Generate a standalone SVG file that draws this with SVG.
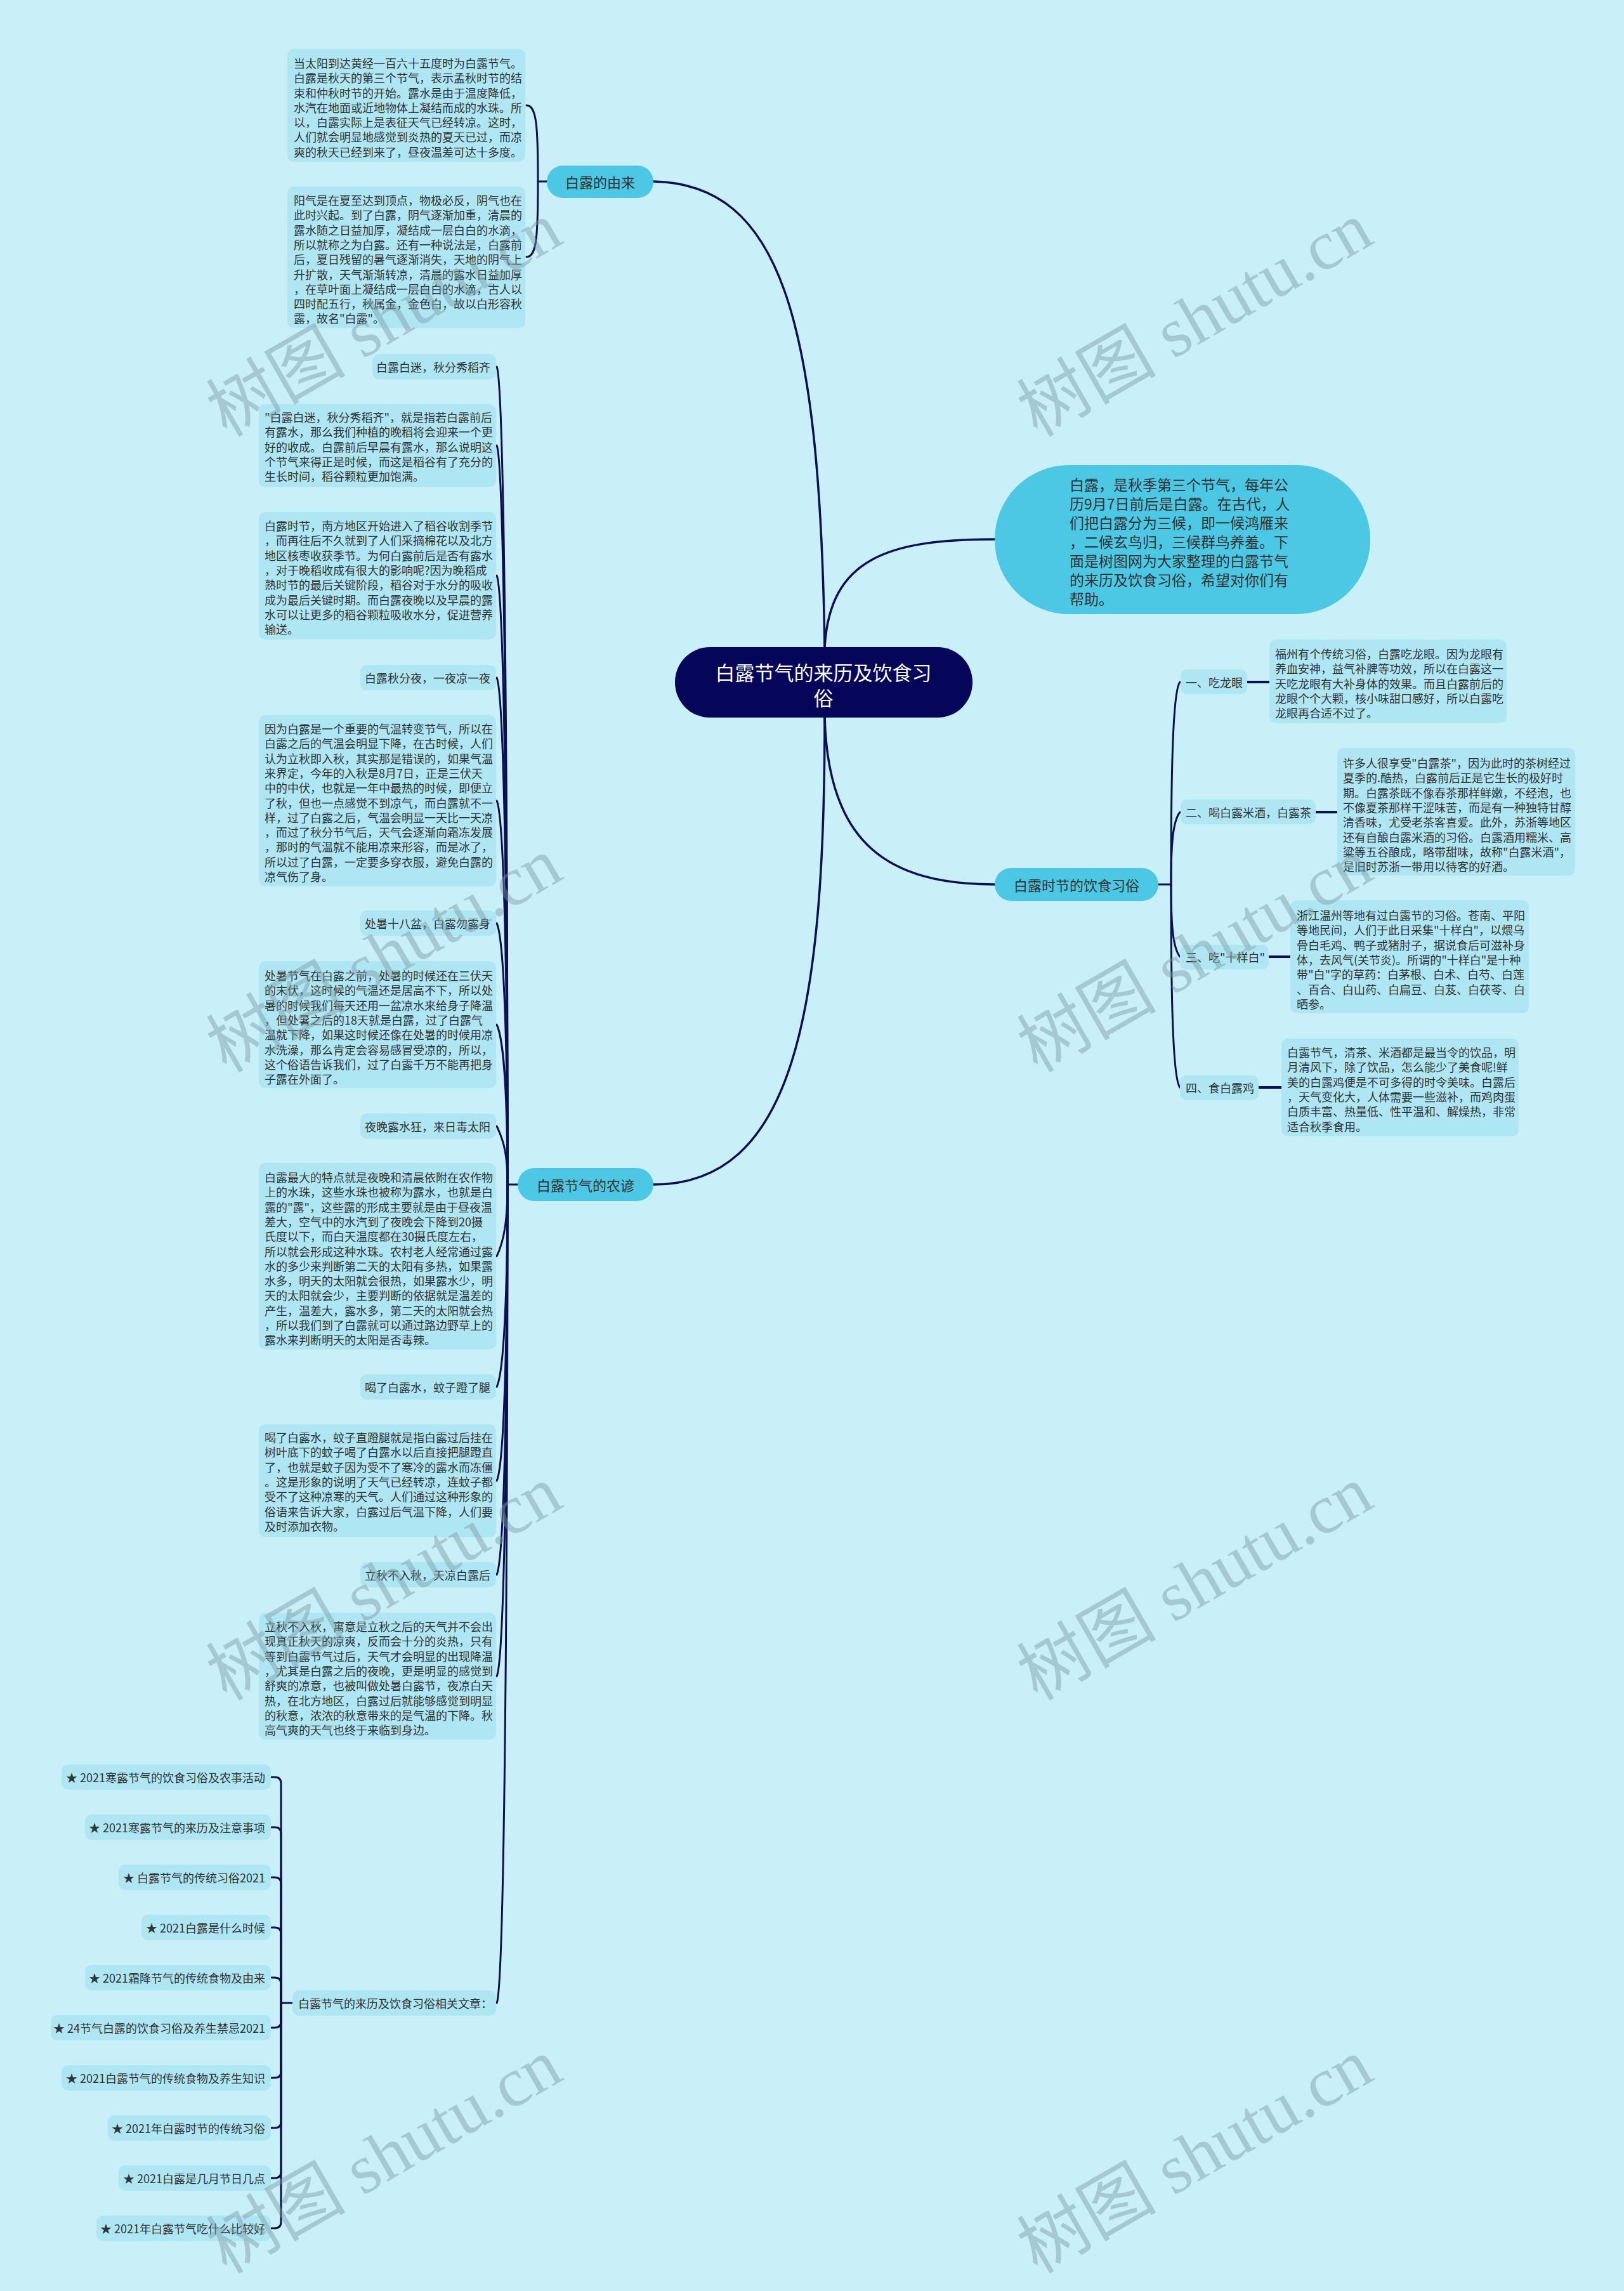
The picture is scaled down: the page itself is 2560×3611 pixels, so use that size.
<svg xmlns="http://www.w3.org/2000/svg" width="2560" height="3611" viewBox="0 0 2560 3611">
<style>
.bg{fill:#c9f0f8}
.leaf{fill:#aee6f4}
.major{fill:#4cc8e5}
.t{font-family:"Noto Sans CJK SC","Noto Sans",sans-serif;font-size:18px;fill:#333;dominant-baseline:central}
.tm{font-family:"Noto Sans CJK SC","Noto Sans",sans-serif;font-size:22px;fill:#333;dominant-baseline:central;text-anchor:middle}
.ti{font-family:"Noto Sans CJK SC","Noto Sans",sans-serif;font-size:23px;fill:#333;dominant-baseline:central}
.tr{font-family:"Noto Sans CJK SC","Noto Sans",sans-serif;font-size:31px;fill:#fff;dominant-baseline:central;text-anchor:middle}
.e{text-anchor:end}
.c{fill:none;stroke:#0c0f52;stroke-width:3;stroke-linecap:round}
.cm{fill:none;stroke:#0c0f52;stroke-width:3.5;stroke-linecap:round}
.cs{fill:none;stroke:#0c0f52;stroke-width:4}
.wm{font-family:"Liberation Serif","Noto Sans CJK SC",serif;font-size:110px;fill:#7d9ba3;opacity:.45}
</style>
<rect class="bg" x="0" y="0" width="2560" height="3611"/>

<g id="connectors">
<path class="cm" d="M1030,286 C1230,290 1292,500 1300,1020"/>
<path class="cm" d="M1300,1020 C1308,880 1400,850 1568,850"/>
<path class="cm" d="M1300,1130 C1305,1330 1400,1394 1568,1394"/>
<path class="cm" d="M1300,1130 C1300,1600 1250,1867 1030,1867"/>
<path class="c" d="M862,286 L848,286 C848,200 846,166 830,166"/>
<path class="c" d="M848,286 C848,372 846,405 830,405"/>
<path class="c" d="M816,1867 L800,1867"/>
<path class="c" d="M800,1867 C800,1222 795,603 783,578"/>
<path class="c" d="M800,1867 C800,1285 795,727 783,702"/>
<path class="c" d="M800,1867 C800,1387 795,932 783,907"/>
<path class="c" d="M800,1867 C800,1467 795,1093 783,1068"/>
<path class="c" d="M800,1867 C800,1565 795,1287 783,1262"/>
<path class="c" d="M800,1867 C800,1661 795,1480 783,1455"/>
<path class="c" d="M800,1867 C800,1741 795,1640 783,1615"/>
<path class="c" d="M800,1867 C800,1821 795,1800 783,1775"/>
<path class="c" d="M800,1867 C800,1923 795,1955 783,1980"/>
<path class="c" d="M800,1867 C800,2026 795,2161 783,2186"/>
<path class="c" d="M800,1867 C800,2100 795,2309 783,2334"/>
<path class="c" d="M800,1867 C800,2174 795,2457 783,2482"/>
<path class="c" d="M800,1867 C800,2254 795,2617 783,2642"/>
<path class="c" d="M800,1867 C800,2512 795,3132 783,3157"/>
<path class="c" d="M461,3157 L443,3157"/>
<path class="c" d="M443,3157 L443,2811 Q443,2801 433,2801 L428,2801"/>
<path class="c" d="M443,3157 L443,2890 Q443,2880 433,2880 L428,2880"/>
<path class="c" d="M443,3157 L443,2969 Q443,2959 433,2959 L428,2959"/>
<path class="c" d="M443,3157 L443,3048 Q443,3038 433,3038 L428,3038"/>
<path class="c" d="M443,3157 L443,3127 Q443,3117 433,3117 L428,3117"/>
<path class="c" d="M443,3157 L443,3186 Q443,3196 433,3196 L428,3196"/>
<path class="c" d="M443,3157 L443,3265 Q443,3275 433,3275 L428,3275"/>
<path class="c" d="M443,3157 L443,3344 Q443,3354 433,3354 L428,3354"/>
<path class="c" d="M443,3157 L443,3423 Q443,3433 433,3433 L428,3433"/>
<path class="c" d="M443,3157 L443,3502 Q443,3512 433,3512 L428,3512"/>
<path class="c" d="M1826,1394 L1846,1394"/>
<path class="c" d="M1846,1394 C1846,1235 1848,1090 1860,1075"/>
<path class="c" d="M1846,1394 C1846,1337 1848,1295 1860,1280"/>
<path class="c" d="M1846,1394 C1846,1451 1848,1493 1860,1508"/>
<path class="c" d="M1846,1394 C1846,1554 1848,1699 1860,1714"/>
<path class="cs" d="M1966,1075 L2001,1075"/>
<path class="cs" d="M2074,1280 L2108,1280"/>
<path class="cs" d="M2000,1508 L2034,1508"/>
<path class="cs" d="M1984,1714 L2020,1714"/>
</g>

<g id="root">
<rect x="1064" y="1020" width="469" height="111" rx="55" fill="#05065a"/>
<text class="tr" x="1298"><tspan x="1298" y="1058">白露节气的来历及饮食习</tspan><tspan x="1298" y="1098">俗</tspan></text>
</g>

<g id="intro">
<rect x="1568" y="733" width="592" height="235" rx="117" class="major"/>
<text class="ti"><tspan x="1686" y="763">白露，是秋季第三个节气，每年公</tspan><tspan x="1686" y="793">历9月7日前后是白露。在古代，人</tspan><tspan x="1686" y="823">们把白露分为三候，即一候鸿雁来</tspan><tspan x="1686" y="853">，二候玄鸟归，三候群鸟养羞。下</tspan><tspan x="1686" y="883">面是树图网为大家整理的白露节气</tspan><tspan x="1686" y="913">的来历及饮食习俗，希望对你们有</tspan><tspan x="1686" y="943">帮助。</tspan></text>
</g>

<g id="origin">
<rect x="862" y="261" width="168" height="51" rx="25" class="major"/>
<text class="tm" x="946" y="286">白露的由来</text>
</g>
<g id="origin-1">
<rect x="453" y="77" width="375" height="178" rx="10" class="leaf"/>
<text class="t"><tspan x="463" y="99">当太阳到达黄经一百六十五度时为白露节气。</tspan><tspan x="463" y="122">白露是秋天的第三个节气，表示孟秋时节的结</tspan><tspan x="463" y="146">束和仲秋时节的开始。露水是由于温度降低，</tspan><tspan x="463" y="169">水汽在地面或近地物体上凝结而成的水珠。所</tspan><tspan x="463" y="192">以，白露实际上是表征天气已经转凉。这时，</tspan><tspan x="463" y="215">人们就会明显地感觉到炎热的夏天已过，而凉</tspan><tspan x="463" y="239">爽的秋天已经到来了，昼夜温差可达十多度。</tspan></text>
</g>
<g id="origin-2">
<rect x="453" y="294" width="375" height="223" rx="10" class="leaf"/>
<text class="t"><tspan x="463" y="315">阳气是在夏至达到顶点，物极必反，阴气也在</tspan><tspan x="463" y="338">此时兴起。到了白露，阴气逐渐加重，清晨的</tspan><tspan x="463" y="362">露水随之日益加厚，凝结成一层白白的水滴，</tspan><tspan x="463" y="385">所以就称之为白露。还有一种说法是，白露前</tspan><tspan x="463" y="408">后，夏日残留的暑气逐渐消失，天地的阴气上</tspan><tspan x="463" y="432">升扩散，天气渐渐转凉，清晨的露水日益加厚</tspan><tspan x="463" y="455">，在草叶面上凝结成一层白白的水滴，古人以</tspan><tspan x="463" y="478">四时配五行，秋属金，金色白，故以白形容秋</tspan><tspan x="463" y="501">露，故名"白露"。</tspan></text>
</g>

<g id="proverbs">
<rect x="816" y="1841" width="214" height="52" rx="26" class="major"/>
<text class="tm" x="923" y="1867">白露节气的农谚</text>
</g>
<g id="p1"><rect x="587" y="558" width="195" height="40" rx="10" class="leaf"/><text class="t e" x="773" y="578">白露白迷，秋分秀稻齐</text></g>
<g id="p1d">
<rect x="408" y="637" width="374" height="131" rx="10" class="leaf"/>
<text class="t"><tspan x="417" y="657">"白露白迷，秋分秀稻齐"，就是指若白露前后</tspan><tspan x="417" y="680">有露水，那么我们种植的晚稻将会迎来一个更</tspan><tspan x="417" y="704">好的收成。白露前后早晨有露水，那么说明这</tspan><tspan x="417" y="727">个节气来得正是时候，而这是稻谷有了充分的</tspan><tspan x="417" y="750">生长时间，稻谷颗粒更加饱满。</tspan></text>
</g>
<g id="p1e">
<rect x="408" y="807" width="374" height="201" rx="10" class="leaf"/>
<text class="t"><tspan x="417" y="828">白露时节，南方地区开始进入了稻谷收割季节</tspan><tspan x="417" y="851">，而再往后不久就到了人们采摘棉花以及北方</tspan><tspan x="417" y="875">地区核枣收获季节。为何白露前后是否有露水</tspan><tspan x="417" y="898">，对于晚稻收成有很大的影响呢?因为晚稻成</tspan><tspan x="417" y="921">熟时节的最后关键阶段，稻谷对于水分的吸收</tspan><tspan x="417" y="945">成为最后关键时期。而白露夜晚以及早晨的露</tspan><tspan x="417" y="968">水可以让更多的稻谷颗粒吸收水分，促进营养</tspan><tspan x="417" y="991">输送。</tspan></text>
</g>
<g id="p2"><rect x="568" y="1048" width="214" height="40" rx="10" class="leaf"/><text class="t e" x="773" y="1068">白露秋分夜，一夜凉一夜</text></g>
<g id="p2d">
<rect x="408" y="1127" width="374" height="270" rx="10" class="leaf"/>
<text class="t"><tspan x="417" y="1148">因为白露是一个重要的气温转变节气，所以在</tspan><tspan x="417" y="1171">白露之后的气温会明显下降，在古时候，人们</tspan><tspan x="417" y="1195">认为立秋即入秋，其实那是错误的，如果气温</tspan><tspan x="417" y="1218">来界定，今年的入秋是8月7日，正是三伏天</tspan><tspan x="417" y="1241">中的中伏，也就是一年中最热的时候，即便立</tspan><tspan x="417" y="1265">了秋，但也一点感觉不到凉气，而白露就不一</tspan><tspan x="417" y="1288">样，过了白露之后，气温会明显一天比一天凉</tspan><tspan x="417" y="1311">，而过了秋分节气后，天气会逐渐向霜冻发展</tspan><tspan x="417" y="1334">，那时的气温就不能用凉来形容，而是冰了，</tspan><tspan x="417" y="1358">所以过了白露，一定要多穿衣服，避免白露的</tspan><tspan x="417" y="1381">凉气伤了身。</tspan></text>
</g>
<g id="p3"><rect x="568" y="1435" width="214" height="40" rx="10" class="leaf"/><text class="t e" x="773" y="1455">处暑十八盆，白露勿露身</text></g>
<g id="p3d">
<rect x="408" y="1515" width="374" height="200" rx="10" class="leaf"/>
<text class="t"><tspan x="417" y="1537">处暑节气在白露之前，处暑的时候还在三伏天</tspan><tspan x="417" y="1560">的末伏，这时候的气温还是居高不下，所以处</tspan><tspan x="417" y="1584">暑的时候我们每天还用一盆凉水来给身子降温</tspan><tspan x="417" y="1607">，但处暑之后的18天就是白露，过了白露气</tspan><tspan x="417" y="1630">温就下降，如果这时候还像在处暑的时候用凉</tspan><tspan x="417" y="1654">水洗澡，那么肯定会容易感冒受凉的，所以，</tspan><tspan x="417" y="1677">这个俗语告诉我们，过了白露千万不能再把身</tspan><tspan x="417" y="1700">子露在外面了。</tspan></text>
</g>
<g id="p4"><rect x="568" y="1755" width="214" height="40" rx="10" class="leaf"/><text class="t e" x="773" y="1775">夜晚露水狂，来日毒太阳</text></g>
<g id="p4d">
<rect x="408" y="1833" width="374" height="294" rx="10" class="leaf"/>
<text class="t"><tspan x="417" y="1855">白露最大的特点就是夜晚和清晨依附在农作物</tspan><tspan x="417" y="1878">上的水珠，这些水珠也被称为露水，也就是白</tspan><tspan x="417" y="1902">露的"露"，这些露的形成主要就是由于昼夜温</tspan><tspan x="417" y="1925">差大，空气中的水汽到了夜晚会下降到20摄</tspan><tspan x="417" y="1948">氏度以下，而白天温度都在30摄氏度左右，</tspan><tspan x="417" y="1972">所以就会形成这种水珠。农村老人经常通过露</tspan><tspan x="417" y="1995">水的多少来判断第二天的太阳有多热，如果露</tspan><tspan x="417" y="2018">水多，明天的太阳就会很热，如果露水少，明</tspan><tspan x="417" y="2041">天的太阳就会少，主要判断的依据就是温差的</tspan><tspan x="417" y="2065">产生，温差大，露水多，第二天的太阳就会热</tspan><tspan x="417" y="2088">，所以我们到了白露就可以通过路边野草上的</tspan><tspan x="417" y="2111">露水来判断明天的太阳是否毒辣。</tspan></text>
</g>
<g id="p5"><rect x="568" y="2166" width="214" height="40" rx="10" class="leaf"/><text class="t e" x="773" y="2186">喝了白露水，蚊子蹬了腿</text></g>
<g id="p5d">
<rect x="408" y="2245" width="374" height="178" rx="10" class="leaf"/>
<text class="t"><tspan x="417" y="2265">喝了白露水，蚊子直蹬腿就是指白露过后挂在</tspan><tspan x="417" y="2288">树叶底下的蚊子喝了白露水以后直接把腿蹬直</tspan><tspan x="417" y="2312">了，也就是蚊子因为受不了寒冷的露水而冻僵</tspan><tspan x="417" y="2335">。这是形象的说明了天气已经转凉，连蚊子都</tspan><tspan x="417" y="2358">受不了这种凉寒的天气。人们通过这种形象的</tspan><tspan x="417" y="2382">俗语来告诉大家，白露过后气温下降，人们要</tspan><tspan x="417" y="2405">及时添加衣物。</tspan></text>
</g>
<g id="p6"><rect x="568" y="2462" width="214" height="40" rx="10" class="leaf"/><text class="t e" x="773" y="2482">立秋不入秋，天凉白露后</text></g>
<g id="p6d">
<rect x="408" y="2542" width="374" height="200" rx="10" class="leaf"/>
<text class="t"><tspan x="417" y="2563">立秋不入秋，寓意是立秋之后的天气并不会出</tspan><tspan x="417" y="2586">现真正秋天的凉爽，反而会十分的炎热，只有</tspan><tspan x="417" y="2610">等到白露节气过后，天气才会明显的出现降温</tspan><tspan x="417" y="2633">，尤其是白露之后的夜晚，更是明显的感觉到</tspan><tspan x="417" y="2656">舒爽的凉意，也被叫做处暑白露节，夜凉白天</tspan><tspan x="417" y="2680">热，在北方地区，白露过后就能够感觉到明显</tspan><tspan x="417" y="2703">的秋意，浓浓的秋意带来的是气温的下降。秋</tspan><tspan x="417" y="2726">高气爽的天气也终于来临到身边。</tspan></text>
</g>
<g id="related">
<rect x="461" y="3137" width="321" height="40" rx="10" class="leaf"/>
<text class="t" x="470" y="3157">白露节气的来历及饮食习俗相关文章：</text>
</g>
<g id="r1"><rect x="97" y="2781" width="330" height="40" rx="10" class="leaf"/><text class="t e" x="418" y="2801">★ 2021寒露节气的饮食习俗及农事活动</text></g>
<g id="r2"><rect x="134" y="2860" width="293" height="40" rx="10" class="leaf"/><text class="t e" x="418" y="2880">★ 2021寒露节气的来历及注意事项</text></g>
<g id="r3"><rect x="187" y="2939" width="240" height="40" rx="10" class="leaf"/><text class="t e" x="418" y="2959">★ 白露节气的传统习俗2021</text></g>
<g id="r4"><rect x="223" y="3018" width="204" height="40" rx="10" class="leaf"/><text class="t e" x="418" y="3038">★ 2021白露是什么时候</text></g>
<g id="r5"><rect x="134" y="3097" width="293" height="40" rx="10" class="leaf"/><text class="t e" x="418" y="3117">★ 2021霜降节气的传统食物及由来</text></g>
<g id="r6"><rect x="80" y="3176" width="347" height="40" rx="10" class="leaf"/><text class="t e" x="418" y="3196">★ 24节气白露的饮食习俗及养生禁忌2021</text></g>
<g id="r7"><rect x="97" y="3255" width="330" height="40" rx="10" class="leaf"/><text class="t e" x="418" y="3275">★ 2021白露节气的传统食物及养生知识</text></g>
<g id="r8"><rect x="170" y="3334" width="257" height="40" rx="10" class="leaf"/><text class="t e" x="418" y="3354">★ 2021年白露时节的传统习俗</text></g>
<g id="r9"><rect x="187" y="3413" width="240" height="40" rx="10" class="leaf"/><text class="t e" x="418" y="3433">★ 2021白露是几月节日几点</text></g>
<g id="r10"><rect x="152" y="3492" width="275" height="40" rx="10" class="leaf"/><text class="t e" x="418" y="3512">★ 2021年白露节气吃什么比较好</text></g>

<g id="diet">
<rect x="1568" y="1368" width="258" height="52" rx="26" class="major"/>
<text class="tm" x="1697" y="1394">白露时节的饮食习俗</text>
</g>
<g id="d1"><rect x="1861" y="1055" width="105" height="39" rx="10" class="leaf"/><text class="t" x="1869" y="1075">一、吃龙眼</text></g>
<g id="d1d">
<rect x="2001" y="1008" width="374" height="132" rx="10" class="leaf"/>
<text class="t"><tspan x="2010" y="1030">福州有个传统习俗，白露吃龙眼。因为龙眼有</tspan><tspan x="2010" y="1053">养血安神，益气补脾等功效，所以在白露这一</tspan><tspan x="2010" y="1077">天吃龙眼有大补身体的效果。而且白露前后的</tspan><tspan x="2010" y="1100">龙眼个个大颗，核小味甜口感好，所以白露吃</tspan><tspan x="2010" y="1123">龙眼再合适不过了。</tspan></text>
</g>
<g id="d2"><rect x="1861" y="1260" width="213" height="39" rx="10" class="leaf"/><text class="t" x="1869" y="1280">二、喝白露米酒，白露茶</text></g>
<g id="d2d">
<rect x="2108" y="1179" width="375" height="201" rx="10" class="leaf"/>
<text class="t"><tspan x="2117" y="1202">许多人很享受"白露茶"，因为此时的茶树经过</tspan><tspan x="2117" y="1225">夏季的.酷热，白露前后正是它生长的极好时</tspan><tspan x="2117" y="1249">期。白露茶既不像春茶那样鲜嫩，不经泡，也</tspan><tspan x="2117" y="1272">不像夏茶那样干涩味苦，而是有一种独特甘醇</tspan><tspan x="2117" y="1295">清香味，尤受老茶客喜爱。此外，苏浙等地区</tspan><tspan x="2117" y="1319">还有自酿白露米酒的习俗。白露酒用糯米、高</tspan><tspan x="2117" y="1342">粱等五谷酿成，略带甜味，故称"白露米酒"，</tspan><tspan x="2117" y="1365">是旧时苏浙一带用以待客的好酒。</tspan></text>
</g>
<g id="d3"><rect x="1860" y="1489" width="140" height="39" rx="10" class="leaf"/><text class="t" x="1869" y="1508">三、吃"十样白"</text></g>
<g id="d3d">
<rect x="2034" y="1419" width="376" height="178" rx="10" class="leaf"/>
<text class="t"><tspan x="2044" y="1442">浙江温州等地有过白露节的习俗。苍南、平阳</tspan><tspan x="2044" y="1465">等地民间，人们于此日采集"十样白"，以煨乌</tspan><tspan x="2044" y="1489">骨白毛鸡、鸭子或猪肘子，据说食后可滋补身</tspan><tspan x="2044" y="1512">体，去风气(关节炎)。所谓的"十样白"是十种</tspan><tspan x="2044" y="1535">带"白"字的草药：白茅根、白术、白芍、白莲</tspan><tspan x="2044" y="1559">、百合、白山药、白扁豆、白芨、白茯苓、白</tspan><tspan x="2044" y="1582">晒参。</tspan></text>
</g>
<g id="d4"><rect x="1860" y="1695" width="124" height="39" rx="10" class="leaf"/><text class="t" x="1869" y="1714">四、食白露鸡</text></g>
<g id="d4d">
<rect x="2020" y="1637" width="374" height="154" rx="10" class="leaf"/>
<text class="t"><tspan x="2029" y="1658">白露节气，清茶、米酒都是最当令的饮品，明</tspan><tspan x="2029" y="1681">月清风下，除了饮品，怎么能少了美食呢!鲜</tspan><tspan x="2029" y="1705">美的白露鸡便是不可多得的时令美味。白露后</tspan><tspan x="2029" y="1728">，天气变化大，人体需要一些滋补，而鸡肉蛋</tspan><tspan x="2029" y="1751">白质丰富、热量低、性平温和、解燥热，非常</tspan><tspan x="2029" y="1775">适合秋季食用。</tspan></text>
</g>

<g id="watermarks">
<text class="wm" transform="translate(357,690) rotate(-30)">树图 shutu.cn</text>
<text class="wm" transform="translate(1635,690) rotate(-30)">树图 shutu.cn</text>
<text class="wm" transform="translate(357,1692) rotate(-30)">树图 shutu.cn</text>
<text class="wm" transform="translate(1635,1692) rotate(-30)">树图 shutu.cn</text>
<text class="wm" transform="translate(357,2682) rotate(-30)">树图 shutu.cn</text>
<text class="wm" transform="translate(1635,2682) rotate(-30)">树图 shutu.cn</text>
<text class="wm" transform="translate(357,3585) rotate(-30)">树图 shutu.cn</text>
<text class="wm" transform="translate(1635,3585) rotate(-30)">树图 shutu.cn</text>
</g>
</svg>
